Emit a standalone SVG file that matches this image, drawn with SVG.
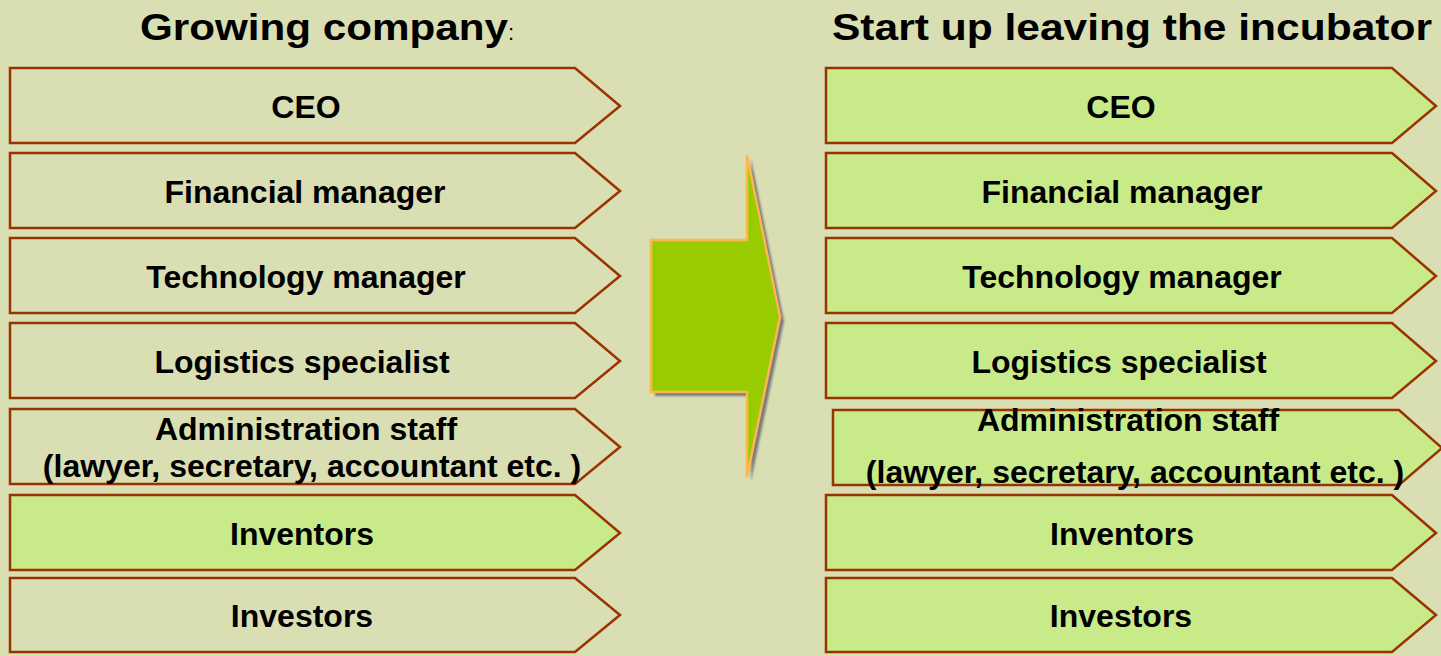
<svg xmlns="http://www.w3.org/2000/svg" width="1441" height="656" viewBox="0 0 1441 656">
<style>
.bx{stroke:#993300;stroke-width:2.5;stroke-linejoin:miter}
.pale{fill:#d9deb3}
.lg{fill:#c9ea88}
.t{font-family:"Liberation Sans",Arial,sans-serif;font-weight:bold;font-size:32px;fill:#000;text-anchor:middle}
.h{font-family:"Liberation Sans",Arial,sans-serif;font-weight:bold;font-size:37px;fill:#000}
</style>
<defs>
<filter id="sh" x="-20%" y="-20%" width="140%" height="140%"><feGaussianBlur stdDeviation="1"/></filter>
</defs>
<rect width="1441" height="656" fill="#d9deb3"/>
<text class="h" x="140" y="40" textLength="368" lengthAdjust="spacingAndGlyphs">Growing company</text>
<text x="508" y="40" font-family="Liberation Sans, Arial, sans-serif" font-size="22" fill="#000">:</text>
<text class="h" x="832" y="40" textLength="600" lengthAdjust="spacingAndGlyphs">Start up leaving the incubator</text>
<g id="left-ceo"><path class="bx pale" d="M10,68 H575 L620,106 L575,143 H10 Z"/><text class="t" x="306" y="118">CEO</text></g>
<g id="left-fin"><path class="bx pale" d="M10,153 H575 L620,191 L575,228 H10 Z"/><text class="t" x="305" y="203">Financial manager</text></g>
<g id="left-tech"><path class="bx pale" d="M10,238 H575 L620,276 L575,313 H10 Z"/><text class="t" x="306" y="288">Technology manager</text></g>
<g id="left-log"><path class="bx pale" d="M10,323 H575 L620,361 L575,398 H10 Z"/><text class="t" x="302" y="373">Logistics specialist</text></g>
<g id="left-admin"><path class="bx pale" d="M10,409 H575 L620,447 L575,484 H10 Z"/><text class="t" x="306" y="440">Administration staff</text><text class="t" x="312" y="477">(lawyer, secretary, accountant etc. )</text></g>
<g id="left-inv"><path class="bx lg" d="M10,495 H575 L620,533 L575,570 H10 Z"/><text class="t" x="302" y="545">Inventors</text></g>
<g id="left-invest"><path class="bx pale" d="M10,578 H575 L620,615 L575,652 H10 Z"/><text class="t" x="302" y="627">Investors</text></g>
<g id="arrow">
<path d="M655,244 H751 V159 L784,321 L751,481 V396 H655 Z" fill="#7a7a7a" filter="url(#sh)"/>
<path d="M651,240 H747 V155 L780,317 L747,477 V392 H651 Z" fill="#99cc00" stroke="#ffb552" stroke-width="2.5"/>
</g>
<g id="right-ceo"><path class="bx lg" d="M826,68 H1392 L1436,106 L1392,143 H826 Z"/><text class="t" x="1121" y="118">CEO</text></g>
<g id="right-fin"><path class="bx lg" d="M826,153 H1392 L1436,191 L1392,228 H826 Z"/><text class="t" x="1122" y="203">Financial manager</text></g>
<g id="right-tech"><path class="bx lg" d="M826,238 H1392 L1436,276 L1392,313 H826 Z"/><text class="t" x="1122" y="288">Technology manager</text></g>
<g id="right-log"><path class="bx lg" d="M826,323 H1392 L1436,361 L1392,398 H826 Z"/><text class="t" x="1119" y="373">Logistics specialist</text></g>
<g id="right-admin"><path class="bx lg" d="M833,410 H1399 L1442,448 L1399,485 H833 Z"/><text class="t" x="1128" y="431">Administration staff</text><text class="t" x="1135" y="483">(lawyer, secretary, accountant etc. )</text></g>
<g id="right-inv"><path class="bx lg" d="M826,495 H1392 L1436,533 L1392,570 H826 Z"/><text class="t" x="1122" y="545">Inventors</text></g>
<g id="right-invest"><path class="bx lg" d="M826,578 H1392 L1436,615 L1392,652 H826 Z"/><text class="t" x="1121" y="627">Investors</text></g>
<g id="connectors"></g>
</svg>
